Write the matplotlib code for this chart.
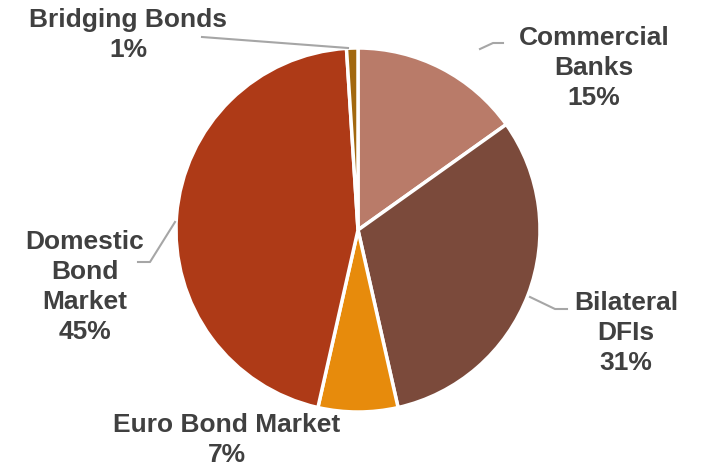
import matplotlib.pyplot as plt

# === Funding sources ===
sources = ["Commercial\nBanks", "Bilateral\nDFIs", "Euro Bond Market",
           "Domestic\nBond\nMarket", "Bridging Bonds"]
shares = [15, 31, 7, 45, 1]
colors = ["#B97B69", "#7B4A3B", "#E78B0C", "#AE3A17", "#A2680F"]

W, H = 704, 468
fig = plt.figure(figsize=(W / 100, H / 100), dpi=100)
ax = fig.add_axes([0, 0, 1, 1])

cx, cy, r = 358, H - 230, 182
ax.pie(shares, colors=colors, startangle=90, counterclock=False,
       center=(cx, cy), radius=r, frame=True,
       wedgeprops=dict(edgecolor="white", linewidth=2.5))
ax.set_xlim(0, W)
ax.set_ylim(0, H)
ax.set_aspect("equal")
ax.axis("off")

# label text placement (pixel coords, y from top) and leader lines
label_pos = [(594, 68), (626, 333), (227, 440), (85, 287), (128, 35)]
leaders = [
    [(480, 49), (493, 43), (503, 43)],
    [(530, 297), (555, 309), (567, 309)],
    None,
    [(175, 222), (150, 262), (138, 262)],
    [(348, 48), (202, 37)],
]

for name, val, (tx, ty), pts in zip(sources, shares, label_pos, leaders):
    ax.text(tx, H - ty, f"{name}\n{val}%", ha="center", va="center",
            fontsize=19, fontweight="bold", color="#404040",
            family="Liberation Sans", linespacing=1.3)
    if pts:
        ax.plot([p[0] for p in pts], [H - p[1] for p in pts],
                color="#A6A6A6", linewidth=1.5)

fig.savefig("out.png", dpi=100)
